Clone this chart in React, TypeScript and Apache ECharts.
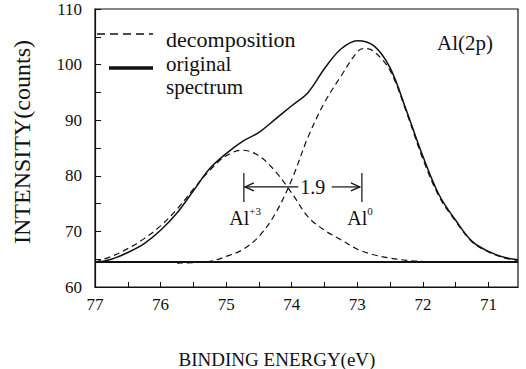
import React, { useEffect, useRef } from "react";
import * as echarts from "echarts";

// ---- axes ----
const X_MIN = 70.55;
const X_MAX = 77;
const X_LABELS = [71, 72, 73, 74, 75, 76, 77];
const X_TICKS = [71, 71.5, 72, 72.5, 73, 73.5, 74, 74.5, 75, 75.5, 76, 76.5, 77];
const Y_MIN = 60;
const Y_MAX = 110;
const Y_LABELS = [60, 70, 80, 90, 100, 110];
const Y_TICKS = [60, 65, 70, 75, 80, 85, 90, 95, 100, 105, 110];

// ---- original spectrum ----
const ENERGY_ORIG = [77, 76.75, 76.5, 76.25, 76, 75.75, 75.5, 75.25, 75, 74.75, 74.5, 74.25, 74, 73.75, 73.5, 73.25, 73, 72.75, 72.5, 72.25, 72, 71.75, 71.5, 71.25, 71, 70.75, 70.55];
const ORIGINAL = [64.4, 65.0, 66.2, 67.8, 70.2, 73.3, 77.3, 81.3, 84.0, 86.2, 87.8, 90.2, 92.6, 95.0, 99.3, 102.8, 104.3, 103.4, 99.4, 91.7, 83.5, 76.5, 72.0, 68.2, 66.4, 65.3, 64.9];

// ---- decomposition: Al+3 ----
const ENERGY_AL3 = [77, 76.75, 76.5, 76.25, 76, 75.75, 75.5, 75.25, 75, 74.75, 74.5, 74.25, 74, 73.75, 73.5, 73.25, 73, 72.75, 72.5, 72.25, 72, 71.5];
const AL3 = [64.5, 65.5, 66.9, 68.7, 71.0, 74.0, 77.6, 81.0, 83.6, 84.6, 83.6, 80.8, 76.9, 72.6, 70.2, 68.5, 66.8, 65.8, 65.2, 64.8, 64.6, 64.5];

// ---- decomposition: Al0 ----
const ENERGY_AL0 = [75.75, 75.25, 75, 74.75, 74.5, 74.25, 74, 73.75, 73.5, 73.25, 73, 72.9, 72.75, 72.5, 72.25, 72, 71.75, 71.5, 71.25, 71, 70.75, 70.55];
const AL0 = [64.3, 64.6, 65.5, 66.7, 69.1, 73.2, 79.3, 87.0, 93.2, 97.9, 102.3, 102.9, 102.4, 98.9, 91.4, 83.0, 76.2, 71.8, 68.1, 66.3, 65.2, 64.8];

// ---- baseline ----
const BASELINE_X = [77, 70.55];
const BASELINE_Y = [64.5, 64.5];

// ---- annotation (data units) ----
const SPLIT_LABEL = "1.9";
const AL3_X = 74.73;
const AL0_X = 72.93;
const ANNOT_Y = 78.0;
const BAR_TOP = 80.5;
const BAR_BOTTOM = 75.3;
const LEFT_ARROW_TAIL = 73.9;
const RIGHT_ARROW_TAIL = 73.39;
const SPLIT_TEXT_X = 73.68;
const AL_LABEL_Y = 72.4;
const AL3_LABEL_X = 74.8;
const AL0_LABEL_X = 73.0;

const SERIF = "'Liberation Serif', 'Times New Roman', serif";

const zip = (xs: number[], ys: number[]) => xs.map((x, i) => [x, ys[i]]);

export default function App() {
  const ref = useRef<HTMLDivElement>(null);

  useEffect(() => {
    if (!ref.current) return;
    const chart = echarts.init(ref.current, null, { renderer: "svg" });
    chart.setOption({
      animation: false,
      backgroundColor: "#fff",
      grid: {
        left: 95,
        right: 8,
        top: 9,
        bottom: 82,
        show: true,
        borderColor: "#111",
        borderWidth: 1.2,
        backgroundColor: "transparent",
      },
      xAxis: {
        type: "value",
        inverse: true,
        min: X_MIN,
        max: X_MAX,
        axisLine: { show: true, lineStyle: { color: "#111", width: 1.2 } },
        axisTick: { show: true, inside: true, length: 5, customValues: X_TICKS, lineStyle: { color: "#111" } },
        axisLabel: {
          customValues: X_LABELS,
          margin: 9,
          color: "#111",
          fontFamily: SERIF,
          fontSize: 17,
          showMinLabel: true,
          showMaxLabel: true,
        },
        splitLine: { show: false },
      },
      yAxis: {
        type: "value",
        min: Y_MIN,
        max: Y_MAX,
        axisLine: { show: true, lineStyle: { color: "#111", width: 1.2 } },
        axisTick: { show: true, inside: true, length: 6, customValues: Y_TICKS, lineStyle: { color: "#111" } },
        axisLabel: {
          customValues: Y_LABELS,
          margin: 13,
          color: "#111",
          fontFamily: SERIF,
          fontSize: 17,
        },
        splitLine: { show: false },
      },
      series: [
        {
          name: "original spectrum",
          type: "line",
          data: zip(ENERGY_ORIG, ORIGINAL),
          smooth: 0.35,
          symbol: "none",
          lineStyle: { color: "#111", width: 1.5 },
        },
        {
          name: "Al+3",
          type: "line",
          data: zip(ENERGY_AL3, AL3),
          smooth: 0.35,
          symbol: "none",
          lineStyle: { color: "#111", width: 1.2, type: [6, 4] },
        },
        {
          name: "Al0",
          type: "line",
          data: zip(ENERGY_AL0, AL0),
          smooth: 0.35,
          symbol: "none",
          lineStyle: { color: "#111", width: 1.2, type: [6, 4] },
        },
        {
          name: "baseline",
          type: "line",
          data: zip(BASELINE_X, BASELINE_Y),
          symbol: "none",
          lineStyle: { color: "#111", width: 1.8 },
        },
      ],
    });

    const p = (x: number, y: number) => chart.convertToPixel({ gridIndex: 0 }, [x, y]) as number[];
    const barL1 = p(AL3_X, BAR_TOP), barL2 = p(AL3_X, BAR_BOTTOM);
    const barR1 = p(AL0_X, BAR_TOP), barR2 = p(AL0_X, BAR_BOTTOM);
    const la = p(AL3_X, ANNOT_Y), lt = p(LEFT_ARROW_TAIL, ANNOT_Y);
    const ra = p(AL0_X, ANNOT_Y), rt = p(RIGHT_ARROW_TAIL, ANNOT_Y);
    const st = p(SPLIT_TEXT_X, ANNOT_Y);
    const a3 = p(AL3_LABEL_X, AL_LABEL_Y);
    const a0 = p(AL0_LABEL_X, AL_LABEL_Y);
    const ls = { stroke: "#111", lineWidth: 1.2, fill: "none" };

    chart.setOption({
      graphic: [
        // legend
        { type: "line", shape: { x1: 97, y1: 34, x2: 153, y2: 34 }, style: { stroke: "#111", lineWidth: 1.3, lineDash: [8, 5] } },
        { type: "text", x: 166, y: 39, style: { text: "decomposition", font: `22px ${SERIF}`, fill: "#111", textVerticalAlign: "middle" } },
        { type: "line", shape: { x1: 109, y1: 68, x2: 153, y2: 68 }, style: { stroke: "#111", lineWidth: 3.5 } },
        { type: "text", x: 166, y: 64, style: { text: "original", font: `21px ${SERIF}`, fill: "#111", textVerticalAlign: "middle" } },
        { type: "text", x: 166, y: 87, style: { text: "spectrum", font: `21px ${SERIF}`, fill: "#111", textVerticalAlign: "middle" } },
        // panel label
        { type: "text", x: 437, y: 43, style: { text: "Al(2p)", font: `21px ${SERIF}`, fill: "#111", textVerticalAlign: "middle" } },
        // axis titles
        { type: "text", x: 277, y: 359, style: { text: "BINDING ENERGY(eV)", font: `19px ${SERIF}`, fill: "#111", textAlign: "center", textVerticalAlign: "middle" } },
        { type: "text", x: 22, y: 142, rotation: Math.PI / 2, style: { text: "INTENSITY(counts)", font: `24px ${SERIF}`, fill: "#111", textAlign: "center", textVerticalAlign: "middle" } },
        // split annotation
        { type: "line", shape: { x1: barL1[0], y1: barL1[1], x2: barL2[0], y2: barL2[1] }, style: ls },
        { type: "line", shape: { x1: barR1[0], y1: barR1[1], x2: barR2[0], y2: barR2[1] }, style: ls },
        { type: "line", shape: { x1: lt[0], y1: lt[1], x2: la[0] + 1, y2: la[1] }, style: ls },
        { type: "polyline", shape: { points: [[la[0] + 10, la[1] - 4], [la[0] + 1, la[1]], [la[0] + 10, la[1] + 4]] }, style: ls },
        { type: "line", shape: { x1: rt[0], y1: rt[1], x2: ra[0] - 2, y2: ra[1] }, style: ls },
        { type: "polyline", shape: { points: [[ra[0] - 11, ra[1] - 4], [ra[0] - 2, ra[1]], [ra[0] - 11, ra[1] + 4]] }, style: ls },
        { type: "text", x: st[0], y: st[1], style: { text: SPLIT_LABEL, font: `20px ${SERIF}`, fill: "#111", textAlign: "center", textVerticalAlign: "middle" } },
        // Al labels
        { type: "text", x: a3[0], y: a3[1], style: { text: "Al", font: `20px ${SERIF}`, fill: "#111", textAlign: "center", textVerticalAlign: "middle" } },
        { type: "text", x: a3[0] + 10, y: a3[1] - 7, style: { text: "+3", font: `11px ${SERIF}`, fill: "#111", textAlign: "left", textVerticalAlign: "middle" } },
        { type: "text", x: a0[0], y: a0[1], style: { text: "Al", font: `20px ${SERIF}`, fill: "#111", textAlign: "center", textVerticalAlign: "middle" } },
        { type: "text", x: a0[0] + 10, y: a0[1] - 7, style: { text: "0", font: `11px ${SERIF}`, fill: "#111", textAlign: "left", textVerticalAlign: "middle" } },
      ],
    });

    return () => chart.dispose();
  }, []);

  return (
    <div
      ref={ref}
      style={{ position: "fixed", left: 0, top: 0, width: 526, height: 369, background: "#fff" }}
    />
  );
}
